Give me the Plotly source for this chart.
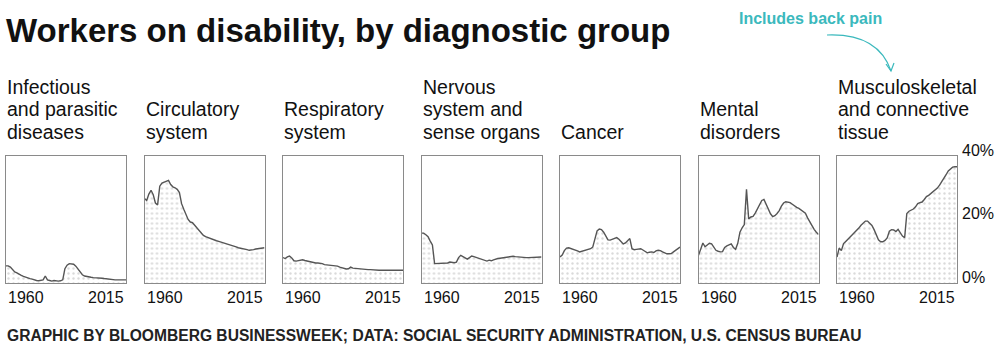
import plotly.graph_objects as go

# ---------------- data ----------------
years = list(range(1960, 2016))

panel_titles = [
    ["Infectious", "and parasitic", "diseases"],
    ["Circulatory", "system"],
    ["Respiratory", "system"],
    ["Nervous", "system and", "sense organs"],
    ["Cancer"],
    ["Mental", "disorders"],
    ["Musculoskeletal", "and connective", "tissue"],
]

infectious = [5.4, 5.4, 5.0, 4.2, 3.5, 3.2, 2.7, 2.4, 2.1, 1.8,
              1.6, 1.4, 1.2, 0.9, 0.8, 0.7, 0.8, 1.0, 2.2, 1.0,
              0.8, 0.6, 0.8, 0.6, 0.6, 0.7, 1.0, 4.5, 5.6, 6.1,
              6.1, 5.9, 5.3, 4.3, 3.5, 2.6, 2.2, 2.0, 1.9, 1.8,
              1.7, 1.7, 1.6, 1.6, 1.5, 1.4, 1.3, 1.2, 1.0, 1.0,
              1.0, 1.0, 1.0, 1.0, 1.0, 1.0]
circulatory = [26.6, 26.0, 28.0, 29.2, 27.8, 25.2, 24.6, 30.5, 31.5, 31.8,
               32.0, 32.3, 31.0, 30.3, 30.0, 29.5, 28.5, 25.0, 23.2, 21.6,
               20.0, 19.2, 19.0, 18.2, 17.4, 16.5, 15.7, 15.0, 14.6, 14.3,
               14.0, 13.7, 13.4, 13.3, 13.1, 12.9, 12.7, 12.5, 12.4, 12.1,
               11.8, 11.6, 11.4, 11.1, 11.0, 10.8, 10.6, 10.5, 10.3, 10.3,
               10.5, 10.7, 10.8, 10.9, 11.0, 11.1]
respiratory = [8.0, 7.7, 8.2, 8.5, 7.9, 7.0, 6.9, 7.0, 7.3, 7.3,
               7.1, 6.9, 6.8, 6.5, 6.3, 6.3, 6.3, 6.3, 6.1, 5.8,
               5.7, 5.6, 5.6, 5.6, 5.5, 5.3, 5.0, 4.8, 4.6, 4.4,
               4.5, 5.0, 4.7, 4.6, 4.5, 4.5, 4.4, 4.4, 4.3, 4.2,
               4.2, 4.1, 4.1, 4.1, 4.0, 4.0, 4.0, 4.0, 3.9, 4.0,
               4.0, 4.0, 4.0, 4.0, 4.0, 4.0]
nervous = [15.7, 15.7, 15.2, 14.6, 13.2, 12.0, 6.1, 6.1, 6.1, 6.1,
           6.1, 6.1, 6.3, 6.6, 6.5, 6.4, 6.6, 8.0, 8.7, 8.3,
           7.8, 7.5, 8.0, 8.5, 8.3, 8.1, 7.9, 7.6, 7.5, 7.2,
           6.9, 7.2, 7.0, 7.3, 7.6, 7.7, 7.8, 7.9, 8.0, 8.2,
           8.3, 8.4, 8.4, 8.3, 8.2, 8.1, 8.0, 8.0, 8.0, 8.0,
           8.0, 8.1, 8.1, 8.1, 8.2, 8.2]
cancer = [8.2, 8.8, 10.2, 11.0, 11.1, 10.9, 10.6, 10.3, 10.1, 9.8,
          10.0, 10.3, 10.3, 10.5, 10.8, 11.3, 13.5, 16.4, 17.0, 16.8,
          16.0, 14.8, 13.6, 13.5, 13.8, 14.2, 14.3, 13.8, 12.9, 12.3,
          12.6, 13.2, 14.0, 10.8, 10.5, 10.6, 10.7, 10.8, 10.4, 9.8,
          9.5, 9.7, 9.8, 9.6, 10.1, 10.3, 10.2, 9.8, 9.4, 9.2,
          9.2, 9.3, 9.8, 10.4, 10.9, 11.3]
mental = [8.7, 10.5, 12.6, 11.4, 12.0, 12.5, 12.3, 11.2, 10.3, 10.0,
          9.8, 9.9, 11.2, 11.7, 12.0, 12.3, 11.2, 10.6, 12.5, 16.0,
          17.4, 18.4, 29.5, 20.2, 20.8, 21.0, 22.0, 23.3, 24.8, 26.0,
          26.3, 24.8, 23.0, 21.8, 20.9, 21.2, 21.9, 22.8, 24.2, 25.2,
          25.6, 25.5, 25.3, 24.8, 24.2, 23.8, 23.5, 23.0, 22.5, 22.0,
          20.5, 19.2, 18.0, 16.9, 16.0, 15.3]
musculoskeletal = [8.2, 11.0, 10.2, 12.4, 13.1, 13.8, 14.3, 15.2, 15.8, 16.5,
                   17.3, 18.2, 18.9, 19.5, 19.5, 18.9, 18.1, 16.8, 15.0, 13.6,
                   13.0, 13.0, 13.4, 14.2, 16.3, 16.8, 16.7, 16.2, 16.9, 16.0,
                   14.8, 14.3, 21.9, 22.6, 23.0, 23.3, 24.0, 25.0, 25.3, 25.5,
                   26.3, 27.2, 27.6, 28.2, 28.7, 29.2, 29.9, 30.8, 31.8, 33.0,
                   34.1, 35.3, 36.0, 36.5, 36.6, 36.6]

series = [infectious, circulatory, respiratory, nervous, cancer, mental, musculoskeletal]
x_tick_labels = ["1960", "2015"]
y_tick_vals = [0, 20, 40]
y_tick_text = ["0%", "20%", "40%"]

title_text = "Workers on disability, by diagnostic group"
note_text = "Includes back pain"
source_text = "GRAPHIC BY BLOOMBERG BUSINESSWEEK; DATA: SOCIAL SECURITY ADMINISTRATION, U.S. CENSUS BUREAU"

# ---------------- layout helpers ----------------
W, H = 1000, 350
FONT = "Liberation Sans, Arial, sans-serif"
INK = "#111111"
TEAL = "#3bb9bd"


def px(x):
    return x / W


def py(y):
    return 1 - y / H


panel_left = [6 + i * 138.5 for i in range(7)]
panel_w = 120
box_top, box_bot = 156, 283

fig = go.Figure()
annotations = []
layout = {}

for i, vals in enumerate(series):
    n = i + 1
    xa = "x" if n == 1 else f"x{n}"
    ya = "y" if n == 1 else f"y{n}"
    fig.add_trace(go.Scatter(
        x=years, y=vals, xaxis=xa, yaxis=ya,
        mode="lines", line=dict(color="#555555", width=1.4),
        fill="tozeroy", fillcolor="white",
        fillpattern=dict(shape=".", fgcolor="#b5b5b5", bgcolor="white",
                         size=5, solidity=0.18),
        hoverinfo="skip", showlegend=False,
    ))
    L = panel_left[i]
    layout[f"xaxis{'' if n == 1 else n}"] = dict(
        domain=[px(L), px(L + panel_w)], range=[years[0], years[-1]],
        anchor=ya, showgrid=False, zeroline=False, showticklabels=False,
        showline=True, mirror=True, linecolor="#8a8a8a", linewidth=1, ticks="",
        automargin=False,
    )
    layout[f"yaxis{'' if n == 1 else n}"] = dict(
        domain=[py(box_bot), py(box_top)], range=[0, 40], anchor=xa,
        showgrid=False, zeroline=False, showline=True, mirror=True,
        linecolor="#8a8a8a", linewidth=1, ticks="",
        showticklabels=False, automargin=False,
    )

    # panel title, bottom-aligned lines
    lines = panel_titles[i]
    for k, line in enumerate(reversed(lines)):
        annotations.append(dict(
            xref="paper", yref="paper", x=px(L - 1), y=py(132 - 22.5 * k),
            xanchor="left", yanchor="middle", text=line, showarrow=False,
            font=dict(family=FONT, size=19.5, color=INK),
        ))
    # year labels
    annotations.append(dict(xref=f"{xa} domain", yref="paper", x=0, y=py(297),
                            xanchor="left", yanchor="middle", text=x_tick_labels[0],
                            showarrow=False, font=dict(family=FONT, size=16, color=INK)))
    annotations.append(dict(xref=f"{xa} domain", yref="paper", x=1, y=py(297),
                            xanchor="right", yanchor="middle", text=x_tick_labels[1],
                            showarrow=False, font=dict(family=FONT, size=16, color=INK)))

# y-axis value labels on the right of the last panel, positioned by its y scale
for v, t in zip(y_tick_vals, y_tick_text):
    annotations.append(dict(xref="x7 domain", yref="y7", x=1, y=v, xshift=3, yshift=6,
                            xanchor="left", yanchor="middle", text=t, showarrow=False,
                            font=dict(family=FONT, size=16, color=INK)))

annotations.append(dict(xref="paper", yref="paper", x=px(4), y=py(31),
                        xanchor="left", yanchor="middle", text=f"<b>{title_text}</b>",
                        showarrow=False, font=dict(family=FONT, size=33, color=INK)))
annotations.append(dict(xref="paper", yref="paper", x=px(810), y=py(19),
                        xanchor="center", yanchor="middle", text=f"<b>{note_text}</b>",
                        showarrow=False, font=dict(family=FONT, size=16, color=TEAL)))
annotations.append(dict(xref="paper", yref="paper", x=px(5), y=py(335),
                        xanchor="left", yanchor="middle", text=f"<b>{source_text}</b>",
                        showarrow=False, font=dict(family=FONT, size=15.6, color="#222222")))

curve = f"M {px(827):.4f},{py(35):.4f} Q {px(878):.4f},{py(33):.4f} {px(891):.4f},{py(71):.4f}"
head = f"M {px(886):.4f},{py(64):.4f} L {px(891):.4f},{py(71):.4f} L {px(894):.4f},{py(63):.4f}"
shapes = [
    dict(type="path", xref="paper", yref="paper", path=curve,
         line=dict(color=TEAL, width=1.2)),
    dict(type="path", xref="paper", yref="paper", path=head,
         line=dict(color=TEAL, width=1.2)),
]

fig.update_layout(
    width=W, height=H, margin=dict(l=0, r=0, t=0, b=0, autoexpand=False),
    paper_bgcolor="white", plot_bgcolor="white",
    annotations=annotations, shapes=shapes, showlegend=False,
    **layout,
)

fig.write_html("out.html")
